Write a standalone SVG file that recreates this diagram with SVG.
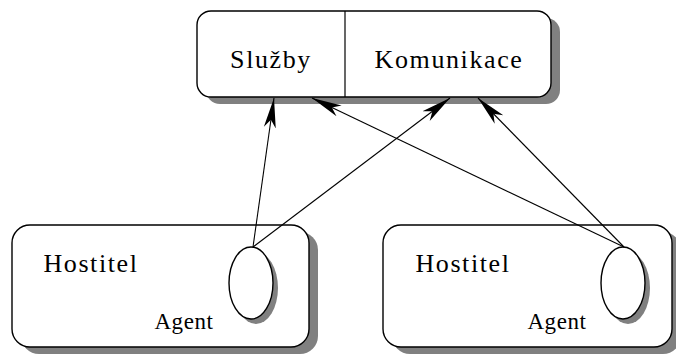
<svg xmlns="http://www.w3.org/2000/svg" width="676" height="356" viewBox="0 0 676 356">
  <style>
    .shadow { fill: #808080; stroke: none; }
    .box { fill: #ffffff; stroke: #000000; stroke-width: 1.4; }
    .conn { stroke: #000000; stroke-width: 1.1; fill: none; marker-end: url(#arrow); }
    .label { font-family: "Liberation Serif", serif; font-size: 26px; letter-spacing: 1.6px; fill: #000000; text-anchor: middle; }
    .agent { font-family: "Liberation Serif", serif; font-size: 23px; letter-spacing: 0.6px; fill: #000000; text-anchor: middle; }
  </style>
  <defs>
    <marker id="arrow" markerUnits="userSpaceOnUse" viewBox="0 -7 30 14" refX="30" refY="0" markerWidth="30" markerHeight="14" orient="auto">
      <path d="M30,0 L0,-6 L8,0 L0,6 Z" fill="#000000"/>
    </marker>
  </defs>

  <!-- Server: services and communication -->
  <g id="server">
    <rect class="shadow" x="206" y="18" width="354" height="86" rx="14"/>
    <rect class="box" x="197" y="11" width="354" height="86" rx="14"/>
    <line x1="345" y1="11" x2="345" y2="97" stroke="#000000" stroke-width="1.2"/>
    <text class="label" x="271" y="68">Služby</text>
    <text class="label" x="449" y="68">Komunikace</text>
  </g>

  <!-- Left host with its agent -->
  <g id="host-left">
    <rect class="shadow" x="21" y="232" width="297" height="122" rx="18"/>
    <rect class="box" x="12" y="225" width="297" height="122" rx="18"/>
    <text class="label" x="91" y="272">Hostitel</text>
    <text class="agent" x="184" y="329">Agent</text>
    <g id="agent-left">
      <ellipse class="shadow" cx="256" cy="288" rx="22" ry="36"/>
      <ellipse class="box" cx="251" cy="283" rx="22" ry="36"/>
    </g>
  </g>

  <!-- Right host with its agent -->
  <g id="host-right">
    <rect class="shadow" x="392" y="232" width="289" height="122" rx="18"/>
    <rect class="box" x="383" y="225" width="289" height="122" rx="18"/>
    <text class="label" x="463" y="272">Hostitel</text>
    <text class="agent" x="557" y="329">Agent</text>
    <g id="agent-right">
      <ellipse class="shadow" cx="628" cy="288" rx="22" ry="36"/>
      <ellipse class="box" cx="623" cy="283" rx="22" ry="36"/>
    </g>
  </g>

  <!-- Agent connections to the server -->
  <g id="connectors">
    <line class="conn" x1="253" y1="247" x2="274" y2="98"/>
    <line class="conn" x1="253" y1="247" x2="450" y2="98"/>
    <line class="conn" x1="624" y1="247" x2="312" y2="98"/>
    <line class="conn" x1="624" y1="247" x2="478" y2="98"/>
  </g>
</svg>
